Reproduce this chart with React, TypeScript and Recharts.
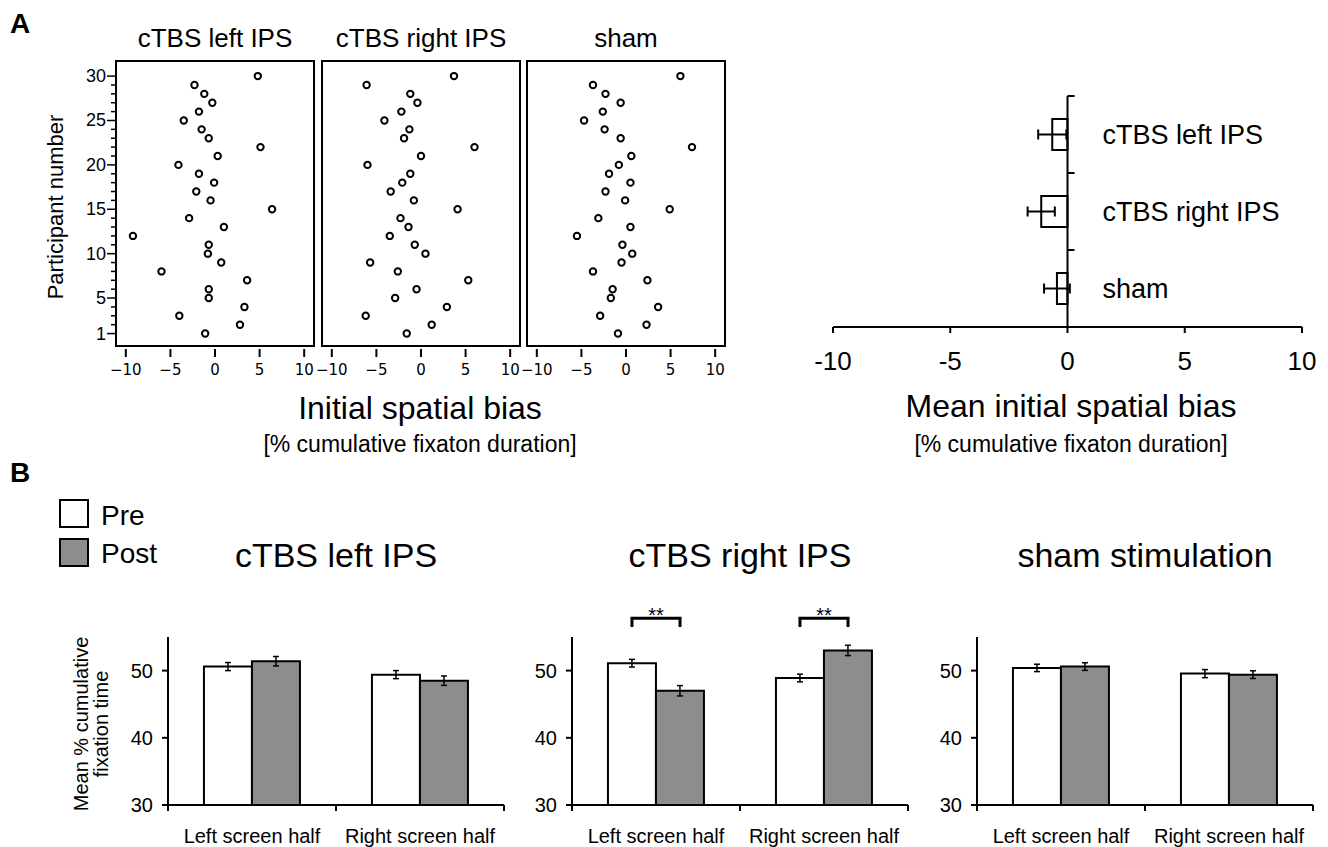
import React from "react"
import { Bar, BarChart, ErrorBar, ReferenceArea, ReferenceLine, Scatter, ScatterChart, XAxis, YAxis } from "recharts"

const FONT = "'Liberation Sans', Arial, sans-serif"

// panel A: initial spatial bias per participant (participant 1..30)
const participants = [1, 2, 3, 4, 5, 6, 7, 8, 9, 10, 11, 12, 13, 14, 15, 16, 17, 18, 19, 20, 21, 22, 23, 24, 25, 26, 27, 28, 29, 30]
const participantLabels = [1, 5, 10, 15, 20, 25, 30]
const biasTicks = [-10, -5, 0, 5, 10]

const biasLeftIps = [-1.1, 2.8, -4.0, 3.3, -0.7, -0.7, 3.6, -6.0, 0.7, -0.8, -0.7, -9.2, 1.0, -2.9, 6.4, -0.5, -2.1, -0.1, -1.8, -4.1, 0.3, 5.1, -0.7, -1.5, -3.5, -1.8, -0.3, -1.2, -2.3, 4.8]
const biasRightIps = [-1.6, 1.2, -6.2, 2.9, -2.9, -0.5, 5.3, -2.6, -5.7, 0.5, -0.7, -3.5, -1.4, -2.3, 4.1, -0.8, -3.4, -2.1, -1.2, -6.0, 0.0, 6.0, -1.9, -1.3, -4.1, -2.2, -0.4, -1.2, -6.1, 3.7]
const biasSham = [-0.9, 2.3, -2.9, 3.6, -1.7, -1.5, 2.4, -3.7, -0.5, 0.7, -0.4, -5.5, 0.5, -3.1, 4.9, -0.1, -2.3, 0.5, -1.9, -0.8, 0.6, 7.4, -0.6, -2.4, -4.7, -2.6, -0.6, -2.3, -3.7, 6.1]

// panel A right: mean bias per condition
const groupsA = ["cTBS left IPS", "cTBS right IPS", "sham"]
const meanBias = [-0.65, -1.12, -0.45]
const meanBiasErr = [0.6, 0.58, 0.55]

// panel B: mean % cumulative fixation time
const screenHalves = ["Left screen half", "Right screen half"]
const leftIpsPre = [50.6, 49.4]
const leftIpsPost = [51.4, 48.5]
const leftIpsPreErr = [0.6, 0.6]
const leftIpsPostErr = [0.7, 0.7]
const rightIpsPre = [51.1, 48.9]
const rightIpsPost = [47.0, 53.0]
const rightIpsPreErr = [0.57, 0.57]
const rightIpsPostErr = [0.77, 0.77]
const shamPre = [50.4, 49.55]
const shamPost = [50.6, 49.4]
const shamPreErr = [0.55, 0.6]
const shamPostErr = [0.57, 0.57]

// layout
const SC_TOP = 61
const SC_H = 285
const SC_W = 198
const SC_X = [-11.1, 11.1]
const SC_Y = [-0.4, 31.7]

const A_LEFT = 833
const A_TOP = 96
const A_W = 469
const A_H = 231

const B_TOP = 637
const B_H = 168
const B_W = 336
const BAR_GAP = 0.214
const BRACKET_TOP = 57.8
const BRACKET_LEG = 56.5

const BiasTick = (props: any) => {
  const { x, y, payload } = props
  const v = payload.value
  const txt = v < 0 ? "\u2212" + Math.abs(v) : String(v)
  return (
    <g>
      <line x1={x} x2={x} y1={y + 3} y2={y + 11} stroke="#000" strokeWidth={2} />
      <text x={x} y={y + 29} textAnchor="middle" fontFamily="'DejaVu Sans'" fontSize={15} fill="#000">
        {txt}
      </text>
    </g>
  )
}

const ParticipantTick = (props: any) => {
  const { x, y, payload } = props
  const major = participantLabels.includes(payload.value)
  return (
    <g>
      <line x1={x - (major ? 9 : 5)} x2={x} y1={y} y2={y} stroke="#000" strokeWidth={1.5} />
      {major && (
        <text x={x - 10} y={y + 6} textAnchor="end" fontFamily={FONT} fontSize={18} fill="#000">
          {payload.value}
        </text>
      )}
    </g>
  )
}

const ring = (props: any) => (
  <circle cx={props.cx} cy={props.cy} r={3.2} fill="#fff" stroke="#000" strokeWidth={2} />
)

function BiasScatter({ values, plotLeft, showY }: { values: number[]; plotLeft: number; showY: boolean }) {
  const data = participants.map((p, i) => ({ p, bias: values[i] }))
  const yw = showY ? 40 : 0
  return (
    <div style={{ position: "absolute", left: plotLeft - 16 - yw, top: SC_TOP - 2 }}>
      <ScatterChart width={16 + yw + SC_W + 16} height={2 + SC_H + 40} margin={{ top: 2, right: 16, bottom: 0, left: 16 }}>
        <XAxis
          type="number"
          dataKey="bias"
          domain={SC_X}
          ticks={biasTicks}
          interval={0}
          axisLine={false}
          tickLine={false}
          tickSize={0}
          tickMargin={0}
          height={40}
          tick={<BiasTick />}
        />
        <YAxis
          type="number"
          dataKey="p"
          domain={SC_Y}
          ticks={participants}
          interval={0}
          hide={!showY}
          width={40}
          axisLine={false}
          tickLine={false}
          tickSize={0}
          tickMargin={0}
          tick={<ParticipantTick />}
        />
        <ReferenceArea x1={SC_X[0]} x2={SC_X[1]} y1={SC_Y[0]} y2={SC_Y[1]} fill="none" stroke="#000" strokeWidth={2} />
        <Scatter data={data} shape={ring} isAnimationActive={false} />
      </ScatterChart>
    </div>
  )
}

const GroupTick = (props: any) => {
  const { x, y, payload } = props
  const zeroX = x + A_W / 2
  const band = A_H / groupsA.length
  return (
    <g>
      <line x1={zeroX} x2={zeroX + 7} y1={y - band / 2} y2={y - band / 2} stroke="#000" strokeWidth={2} />
      <text x={zeroX + 35} y={y + 9} fontFamily={FONT} fontSize={27} fill="#000">
        {payload.value}
      </text>
    </g>
  )
}

const MeanTick = (props: any) => {
  const { x, y, payload } = props
  return (
    <text x={x} y={y + 37} textAnchor="middle" fontFamily={FONT} fontSize={26} fill="#000">
      {payload.value}
    </text>
  )
}

function MeanBiasChart() {
  const data = groupsA.map((g, i) => ({ group: g, mean: meanBias[i], err: meanBiasErr[i] }))
  return (
    <div style={{ position: "absolute", left: A_LEFT - 30, top: A_TOP - 6 }}>
      <BarChart
        layout="vertical"
        data={data}
        width={30 + A_W + 30}
        height={6 + A_H + 60}
        margin={{ top: 6, right: 30, bottom: 0, left: 20 }}
        barSize={31}
      >
        <XAxis
          type="number"
          domain={[-10, 10]}
          ticks={biasTicks}
          interval={0}
          axisLine={{ stroke: "#000", strokeWidth: 2 }}
          tickLine={{ stroke: "#000", strokeWidth: 2 }}
          tickSize={6}
          tickMargin={0}
          height={60}
          tick={<MeanTick />}
        />
        <YAxis
          type="category"
          dataKey="group"
          width={10}
          interval={0}
          axisLine={false}
          tickLine={false}
          tickSize={0}
          tickMargin={0}
          tick={<GroupTick />}
        />
        <Bar dataKey="mean" fill="#fff" stroke="#000" strokeWidth={2} isAnimationActive={false}>
          <ErrorBar dataKey="err" direction="x" width={5} stroke="#000" strokeWidth={2} />
        </Bar>
        <ReferenceLine x={0} stroke="#000" strokeWidth={2} />
      </BarChart>
    </div>
  )
}

const HalfTick = (props: any) => {
  const { x, y, payload, index } = props
  const band = B_W / screenHalves.length
  return (
    <g>
      <line x1={x - band / 2} x2={x - band / 2} y1={y} y2={y + 6} stroke="#000" strokeWidth={2} />
      {index === screenHalves.length - 1 && (
        <line x1={x + band / 2} x2={x + band / 2} y1={y} y2={y + 6} stroke="#000" strokeWidth={2} />
      )}
      <text x={x} y={y + 38} textAnchor="middle" fontFamily={FONT} fontSize={20} fill="#000">
        {payload.value}
      </text>
    </g>
  )
}

const Bracket = (props: any) => {
  const { x1, y1, y2 } = props
  const half = ((B_W / screenHalves.length) * (1 - 2 * BAR_GAP)) / 4
  return (
    <g>
      <path
        d={`M${x1 - half},${y2} L${x1 - half},${y1} L${x1 + half},${y1} L${x1 + half},${y2}`}
        fill="none"
        stroke="#000"
        strokeWidth={3}
      />
      <text x={x1} y={y1 + 4} textAnchor="middle" fontFamily={FONT} fontSize={20} fill="#000">
        **
      </text>
    </g>
  )
}

type FixProps = {
  plotLeft: number
  pre: number[]
  post: number[]
  preErr: number[]
  postErr: number[]
  significant?: boolean
}

function FixationChart({ plotLeft, pre, post, preErr, postErr, significant }: FixProps) {
  const data = screenHalves.map((h, i) => ({ half: h, pre: pre[i], post: post[i], preErr: preErr[i], postErr: postErr[i] }))
  return (
    <div style={{ position: "absolute", left: plotLeft - 50, top: B_TOP - 40 }}>
      <BarChart
        data={data}
        width={50 + B_W + 10}
        height={40 + B_H + 50}
        margin={{ top: 40, right: 10, bottom: 0, left: 0 }}
        barCategoryGap={`${BAR_GAP * 100}%`}
        barGap={0}
      >
        <XAxis
          dataKey="half"
          interval={0}
          axisLine={{ stroke: "#000", strokeWidth: 2 }}
          tickLine={false}
          tickSize={0}
          tickMargin={0}
          height={50}
          tick={<HalfTick />}
        />
        <YAxis
          domain={[30, 55]}
          ticks={[30, 40, 50]}
          interval={0}
          width={50}
          axisLine={{ stroke: "#000", strokeWidth: 2 }}
          tickLine={{ stroke: "#000", strokeWidth: 2 }}
          tickSize={6}
          tickMargin={9}
          tick={{ fontSize: 20, fill: "#000", fontFamily: FONT }}
        />
        <Bar dataKey="pre" fill="#fff" stroke="#000" strokeWidth={2} isAnimationActive={false}>
          <ErrorBar dataKey="preErr" direction="y" width={3} stroke="#000" strokeWidth={1.5} />
        </Bar>
        <Bar dataKey="post" fill="#8d8d8d" stroke="#000" strokeWidth={2} isAnimationActive={false}>
          <ErrorBar dataKey="postErr" direction="y" width={3} stroke="#000" strokeWidth={1.5} />
        </Bar>
        {significant &&
          screenHalves.map((h) => (
            <ReferenceLine
              key={h}
              segment={[
                { x: h, y: BRACKET_TOP },
                { x: h, y: BRACKET_LEG },
              ]}
              ifOverflow="visible"
              shape={Bracket}
            />
          ))}
      </BarChart>
    </div>
  )
}

export default function App() {
  return (
    <div
      style={{
        position: "absolute",
        left: 0,
        top: 0,
        width: 1328,
        height: 847,
        background: "#fff",
        overflow: "hidden",
        fontFamily: FONT,
      }}
    >
      <svg width={1328} height={847} style={{ position: "absolute", left: 0, top: 0 }} fontFamily={FONT} fill="#000">
        <text x={10} y={33} fontSize={28} fontWeight="bold">A</text>
        <text x={10} y={482} fontSize={28} fontWeight="bold">B</text>

        <text x={215} y={47} fontSize={26} textAnchor="middle">cTBS left IPS</text>
        <text x={421} y={47} fontSize={26} textAnchor="middle">cTBS right IPS</text>
        <text x={626} y={47} fontSize={26} textAnchor="middle">sham</text>
        <text x={63} y={207} fontSize={22} textAnchor="middle" transform="rotate(-90, 63, 207)">
          Participant number
        </text>
        <text x={420} y={419} fontSize={32} textAnchor="middle">Initial spatial bias</text>
        <text x={420} y={452} fontSize={23} textAnchor="middle">[% cumulative fixaton duration]</text>

        <text x={1071} y={417} fontSize={32} textAnchor="middle">Mean initial spatial bias</text>
        <text x={1071} y={452} fontSize={23} textAnchor="middle">[% cumulative fixaton duration]</text>

        <rect x={60} y={500} width={28} height={27} fill="#fff" stroke="#000" strokeWidth={2} />
        <rect x={60} y={539} width={28} height={27} fill="#8d8d8d" stroke="#000" strokeWidth={2} />
        <text x={101} y={525} fontSize={28}>Pre</text>
        <text x={101} y={563} fontSize={28}>Post</text>

        <text x={336} y={567} fontSize={34} textAnchor="middle">cTBS left IPS</text>
        <text x={740} y={567} fontSize={34} textAnchor="middle">cTBS right IPS</text>
        <text x={1145} y={567} fontSize={34} textAnchor="middle">sham stimulation</text>

        <g transform="rotate(-90, 88, 724)">
          <text x={88} y={724} fontSize={20} textAnchor="middle">Mean % cumulative</text>
          <text x={88} y={744} fontSize={20} textAnchor="middle">fixation time</text>
        </g>
      </svg>

      <BiasScatter values={biasLeftIps} plotLeft={116} showY />
      <BiasScatter values={biasRightIps} plotLeft={322} showY={false} />
      <BiasScatter values={biasSham} plotLeft={527} showY={false} />

      <MeanBiasChart />

      <FixationChart plotLeft={168} pre={leftIpsPre} post={leftIpsPost} preErr={leftIpsPreErr} postErr={leftIpsPostErr} />
      <FixationChart
        plotLeft={572}
        pre={rightIpsPre}
        post={rightIpsPost}
        preErr={rightIpsPreErr}
        postErr={rightIpsPostErr}
        significant
      />
      <FixationChart plotLeft={977} pre={shamPre} post={shamPost} preErr={shamPreErr} postErr={shamPostErr} />
    </div>
  )
}
